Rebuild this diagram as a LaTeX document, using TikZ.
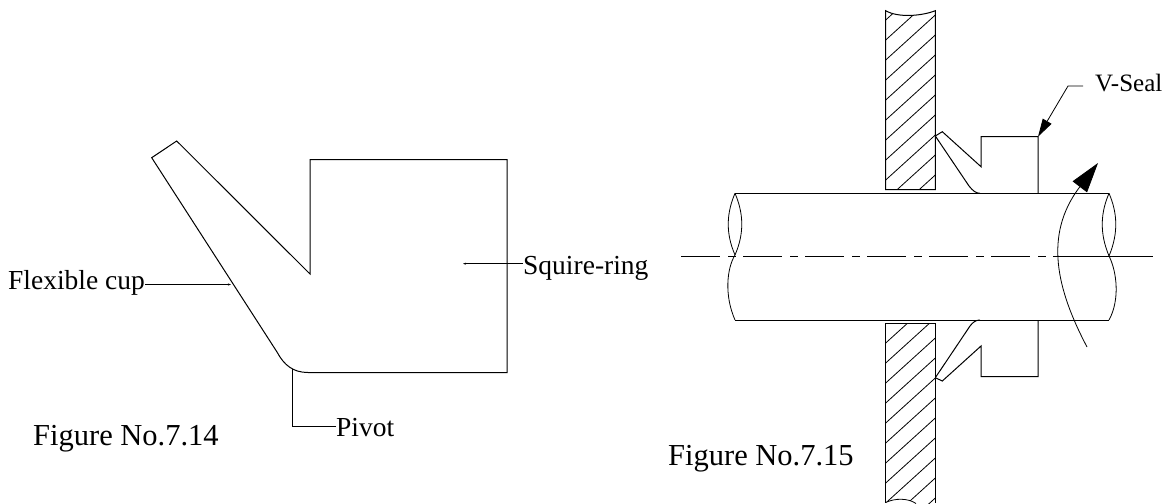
\documentclass[tikz,border=0pt]{standalone}
\usepackage{fontspec}
\setmainfont{Liberation Serif}
\usetikzlibrary{arrows.meta}

\begin{document}
\begin{tikzpicture}[
    x=1pt, y=-1pt,
    part/.style={line width=1pt, line join=miter},
    thin part/.style={line width=0.8pt},
    hatch/.style={line width=0.8pt},
    leader/.style={line width=0.7pt, -{Stealth[length=3pt, width=2pt]}},
    tag/.style={font=\fontsize{27.5}{30}\selectfont, anchor=base west, inner sep=0pt},
    caption/.style={font=\fontsize{30.5}{32}\selectfont, anchor=base west, inner sep=0pt}
]
    \useasboundingbox (0,0) rectangle (1166,503);

    % Figure 7.14
    \draw[part] (310,159.5) -- (507,159.5) -- (507,372.5) -- (308,372.5)
        .. controls (293,372.5) and (284,365) .. (277,352)
        -- (151.7,157.7) -- (176.7,141) -- (310,274) -- cycle;

    \node[tag] (cup) at (8,289) {Flexible cup};
    \node[tag] (ring) at (523,274) {Squire-ring};
    \node[tag] (pivot) at (336,436) {Pivot};
    \node[caption] (fig14) at (33,445.7) {Figure No.7.14};

    \coordinate (cupEnd) at (231,284.5);
    \coordinate (ringEnd) at (463,263.7);
    \coordinate (pivotEnd) at (292.5,369);

    \draw[leader] (cup.east |- cupEnd) -- (cupEnd);
    \draw[leader] (ring.west |- ringEnd) -- (ringEnd);
    \draw[line width=1pt] (pivot.west |- 0,426.7) -| (pivotEnd);

    % Figure 7.15 - wall
    \begin{scope}
        \clip (885.7,10.7) .. controls (898,18) and (922,16) .. (935.3,10.7)
            -- (935.3,189.7) -- (885.7,189.7) -- cycle;
        \foreach \hy in {-25,-5,...,175}
            \draw[hatch] (885.7,\hy+45) -- (935.3,\hy);
    \end{scope}
    \begin{scope}
        \clip (885.7,323.3) -- (935.3,323.3) -- (935.3,506) -- (930,506)
            .. controls (925,506) and (920,506) .. (916,503.5)
            .. controls (908,498) and (895,498) .. (885.7,502.5) -- cycle;
        \foreach \hy in {278,298,...,498}
            \draw[hatch] (885.7,\hy+45) -- (935.3,\hy);
    \end{scope}
    \draw[part] (885.7,10.7) .. controls (898,18) and (922,16) .. (935.3,10.7)
        -- (935.3,189.7) -- (885.7,189.7) -- cycle;
    \draw[part] (885.7,502.5) -- (885.7,323.3) -- (935.3,323.3) -- (935.3,503);
    \draw[thin part] (885.7,502.5) .. controls (895,498) and (908,498) .. (916,503.5);

    % Shaft
    \draw[part] (735,193.3) -- (1109,193.3);
    \draw[part] (735,320) -- (1109,320);
    \draw[thin part] (735,193.3) .. controls (727,212) and (725,232) .. (735,255);
    \draw[thin part] (735,193.3) .. controls (743,212) and (745,232) .. (735,255)
        .. controls (727,268) and (724,295) .. (735,320);
    \draw[thin part] (1109,193.3) .. controls (1117,212) and (1119,232) .. (1109,256);
    \draw[thin part] (1109,193.3) .. controls (1101,212) and (1099,232) .. (1109,256)
        .. controls (1117,272) and (1120,300) .. (1109,320);

    \draw[part, dash pattern=on 39pt off 8pt on 8pt off 7pt] (681,256.7) -- (1053,256.7);
    \draw[part] (1053,256.7) -- (1153,256.7);

    % V-seal
    \draw[part] (935.3,136) -- (942.3,131.7) -- (981,166.7) -- (981,136.7)
        -- (1038,136.7) -- (1038,193.3);
    \draw[part] (935.3,136) -- (969,186) .. controls (973,191) and (976,193.3) .. (980,193.3);
    \draw[part] (935.3,377.7) -- (942.3,381) -- (981,346) -- (981,376.7)
        -- (1038,376.7) -- (1038,320);
    \draw[part] (935.3,377.7) -- (970,326) .. controls (973,322) and (976,320) .. (980,320);

    \node[tag, font=\fontsize{25}{26}\selectfont] (seal) at (1095,91.7) {V-Seal};
    \node[caption] (fig15) at (668,465) {Figure No.7.15};

    \coordinate (sealBend) at (1068,86);
    \coordinate (sealStart) at (1083,86);
    \coordinate (sealTip) at (1038,136.7);
    \coordinate (turnStart) at (1087,347);
    \coordinate (turnTip) at (1098,163);

    \draw[line width=0.8pt, -{Triangle[length=18pt, width=10pt]}] (sealStart) -- (sealBend) -- (sealTip);
    \draw[thin part, -{Triangle[length=30pt, width=18pt]}] (turnStart)
        .. controls (1057,290) and (1043,235) .. (turnTip);
\end{tikzpicture}
\end{document}
